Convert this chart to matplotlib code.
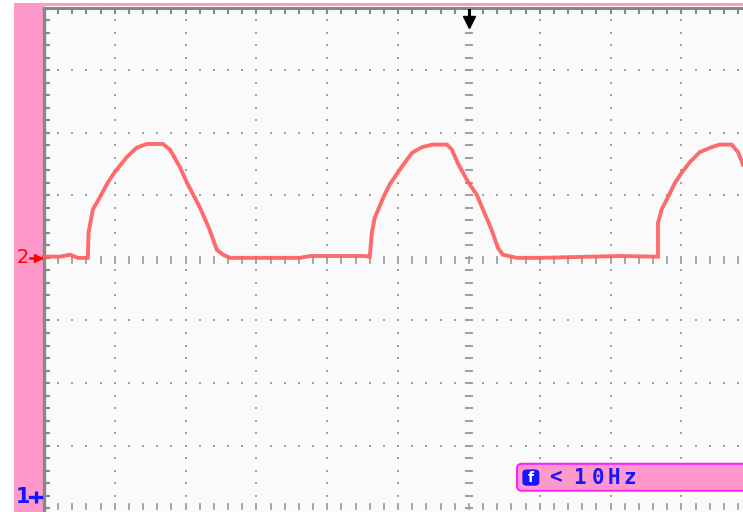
import numpy as np
import matplotlib.pyplot as plt
from matplotlib.patches import Rectangle, FancyBboxPatch

# Channel 2 trace, in screen divisions (time div, volt div)
t_div = [-6.00, -5.77, -5.63, -5.52, -5.38, -5.37, -5.31, -5.21, -5.10, -5.00,
         -4.83, -4.69, -4.55, -4.32, -4.22, -4.08, -3.98, -3.80, -3.66, -3.56,
         -3.47, -3.37, -2.39, -2.24, -1.47, -1.40, -1.37, -1.33, -1.28, -1.21,
         -1.12, -1.00, -0.90, -0.80, -0.66, -0.51, -0.31, -0.24, -0.16, -0.01,
         0.11, 0.20, 0.32, 0.41, 0.48, 0.68, 1.00, 2.13, 2.63, 2.67,
         2.67, 2.72, 2.81, 2.91, 3.01, 3.12, 3.26, 3.43, 3.54, 3.71,
         3.80, 3.87]
v_div = [0.02, 0.02, 0.05, 0.00, 0.00, 0.40, 0.77, 0.97, 1.20, 1.37,
         1.61, 1.76, 1.82, 1.82, 1.73, 1.45, 1.20, 0.81, 0.45, 0.13,
         0.05, 0.00, 0.00, 0.03, 0.03, 0.02, 0.40, 0.64, 0.77, 0.96,
         1.17, 1.37, 1.53, 1.68, 1.77, 1.81, 1.81, 1.73, 1.52, 1.21,
         1.01, 0.77, 0.45, 0.16, 0.05, 0.00, 0.00, 0.03, 0.02, 0.02,
         0.56, 0.77, 0.97, 1.20, 1.37, 1.53, 1.69, 1.77, 1.81, 1.81,
         1.69, 1.49]

freq_label = '<10Hz'
ch2_label = '2'
ch1_label = '1'

# screen geometry (divisions)
half_x, half_y = 6, 4
px_x = 1 / 70.83   # one pixel in x divisions
px_y = 1 / 62.6    # one pixel in y divisions

pink = '#ff99cc'
grey = '#a0a0a0'
blue = '#1515ff'

fig = plt.figure(figsize=(7.43, 5.12), dpi=100)
ax = fig.add_axes([0, 0, 1, 1])
ax.set_xlim(-6.62, 3.87)
ax.set_ylim(-4.06, 4.12)
ax.axis('off')

# side strip and top band
ax.add_patch(Rectangle((-6.0 - 30 * px_x, -4.2), 30 * px_x, 4.06 + 4.2, color=pink, lw=0))
ax.add_patch(Rectangle((-6.0 - 30 * px_x, 4.0 + 1.5 * px_y), 11, 3 * px_y, color=pink, lw=0))

# graticule background
ax.add_patch(Rectangle((-half_x, -half_y - 1), 2 * half_x, 2 * half_y + 1, color='#fafafa', lw=0))

minor_y = np.arange(-half_y, half_y + 0.001, 0.2)
minor_x = np.arange(-half_x, half_x + 0.001, 0.2)

# dotted major lines
for gx in range(-half_x + 1, half_x):
    if gx == 0:
        continue
    ax.scatter(np.full(len(minor_y), gx), minor_y, s=3.5, color=grey, marker='s', lw=0)
for gy in range(-half_y + 1, half_y):
    if gy == 0:
        continue
    ax.scatter(minor_x, np.full(len(minor_x), gy), s=3.5, color=grey, marker='s', lw=0)

# centre axes with minor ticks
for x in minor_x:
    ax.plot([x, x], [-5 * px_y, 1 * px_y], color=grey, lw=1.3)
    ax.plot([x, x], [-half_y - 1 * px_y, -half_y + 4 * px_y], color=grey, lw=1.3)
for y in minor_y:
    ax.plot([-3 * px_x, 3 * px_x], [y, y], color=grey, lw=1.5)

# frame with inward ticks
ax.plot([-half_x, -half_x], [-4.2, half_y], color='#888888', lw=2.4)
ax.plot([-half_x, 4], [half_y, half_y], color='#888888', lw=2.2)
for y in minor_y:
    ax.plot([-half_x, -half_x + 5 * px_x], [y, y], color='#888888', lw=1.5)
for x in minor_x:
    ax.plot([x, x], [half_y, half_y - 5 * px_y], color='#888888', lw=1.5)

# waveform
ax.plot(t_div, v_div, color='#ff5c5c', lw=2.8, alpha=0.9, solid_joinstyle='miter')

# channel markers
ax.text(-6.0 - 21 * px_x, 0, ch2_label, color='red', fontsize=14,
        ha='center', va='center', family='DejaVu Sans')
ax.plot([-6.0 - 14 * px_x, -6.0 - 3 * px_x], [0, 0], color='red', lw=1.8)
ax.plot(-6.0 - 6 * px_x, 0, marker='>', color='red', ms=6)

y1 = (258 - 497) * px_y
ax.text(-6.0 - 21 * px_x, y1, ch1_label, color=blue, fontsize=15,
        ha='center', va='center', fontweight='bold', family='DejaVu Sans')
ax.plot([-6.0 - 14 * px_x, -6.0 - 3 * px_x], [y1, y1], color=blue, lw=2.4)
ax.plot(-6.0 - 8 * px_x, y1, marker='|', color=blue, ms=8, mew=2.4)

# trigger position arrow
ax.plot([0, 0], [half_y - 2 * px_y, half_y - 12 * px_y], color='black', lw=2.2)
ax.plot(0, half_y - 14 * px_y, marker='v', color='black', ms=9)

# frequency readout box
box = FancyBboxPatch((0.68, -3.72), 4.0, 0.43,
                     boxstyle='round,pad=0,rounding_size=0.07',
                     facecolor=pink, edgecolor='#ff22ff', lw=1.5)
ax.add_patch(box)
icon = FancyBboxPatch((0.755, -3.64), 0.24, 0.26,
                      boxstyle='round,pad=0,rounding_size=0.06',
                      facecolor=blue, edgecolor='none')
ax.add_patch(icon)
ax.text(0.875, -3.51, 'f', color='white', fontsize=10, fontweight='bold',
        ha='center', va='center', family='DejaVu Sans')
char_px = [556, 580, 598, 614, 630]
for ch, cx in zip(freq_label, char_px):
    ax.text((cx - 469) * px_x, -3.51, ch, color=blue, fontsize=15,
            ha='center', va='center', fontweight='bold', family='DejaVu Sans Mono')

plt.savefig('out.png', dpi=100)
